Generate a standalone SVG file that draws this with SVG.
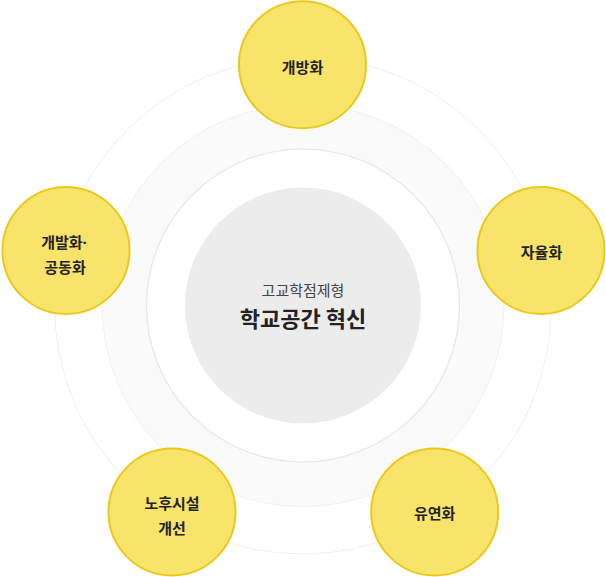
<svg xmlns="http://www.w3.org/2000/svg" width="606" height="577" viewBox="0 0 606 577">
<style>
.ring{fill:none;stroke:#f0f0f0;stroke-width:1}
.band{fill:#fafafa;stroke:#f1f1f1;stroke-width:1}
.inner{fill:#ffffff;stroke:#e6e6e6;stroke-width:1.2}
.core{fill:#ececec}
.node circle{fill:#f8e36b;stroke:#ebc91c;stroke-width:2}
.lbl{font-family:"Noto Sans CJK KR","Noto Sans",sans-serif;font-size:15px;font-weight:700;fill:#222222;text-anchor:middle}
.dot{font-family:"Noto Sans",sans-serif}
.sub{font-family:"Noto Sans CJK KR","Noto Sans",sans-serif;font-size:15px;font-weight:400;fill:#444444;text-anchor:middle}
.main{font-family:"Noto Sans CJK KR","Noto Sans",sans-serif;font-size:22px;font-weight:700;fill:#222222;text-anchor:middle}
</style>
<rect width="606" height="577" fill="#ffffff"/>
<g id="background">
<circle class="ring" cx="303" cy="305.5" r="248.5"/>
<circle class="band" cx="303" cy="305.5" r="201"/>
<circle class="inner" cx="303" cy="305.5" r="156.5"/>
</g>
<g id="connectors"></g>
<g id="center">
<circle class="core" cx="303" cy="305.5" r="118"/>
<text class="sub" x="303" y="295.5">고교학점제형</text>
<text class="main" x="303" y="326.5">학교공간 혁신</text>
</g>
<g id="node-top" class="node">
<circle cx="302.5" cy="64.7" r="63.5"/>
<text class="lbl" x="302.5" y="73">개방화</text>
</g>
<g id="node-right" class="node">
<circle cx="541" cy="250.5" r="63.5"/>
<text class="lbl" x="541.5" y="258">자율화</text>
</g>
<g id="node-bottom-right" class="node">
<circle cx="434.7" cy="512" r="63.5"/>
<text class="lbl" x="434.7" y="519">유연화</text>
</g>
<g id="node-bottom-left" class="node">
<circle cx="172" cy="512" r="63.5"/>
<text class="lbl" x="172" y="509">노후시설</text>
<text class="lbl" x="172" y="534">개선</text>
</g>
<g id="node-left" class="node">
<circle cx="66" cy="250.5" r="63.5"/>
<text class="lbl" x="64" y="247.5">개발화<tspan class="dot">·</tspan></text>
<text class="lbl" x="65" y="272.5">공동화</text>
</g>
</svg>
